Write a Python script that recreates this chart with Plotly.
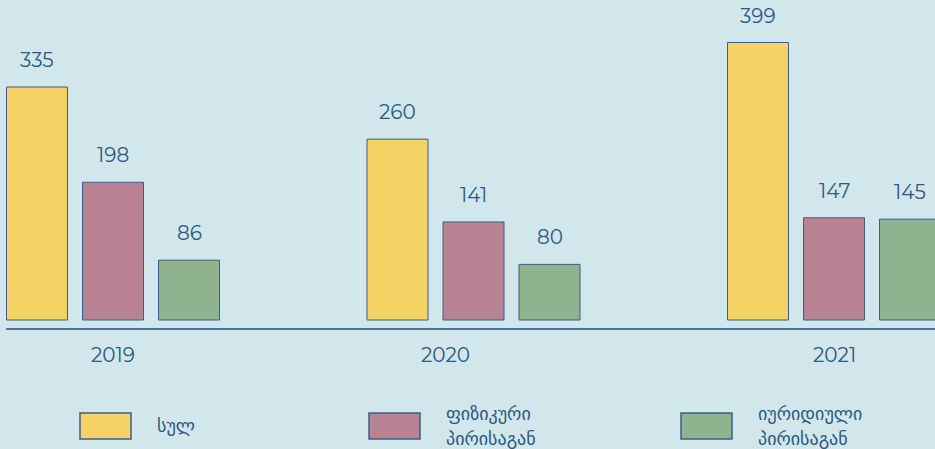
import plotly.graph_objects as go

# ---- data ----
years = ["2019", "2020", "2021"]
series_names = ["სულ", "ფიზიკური<br>პირისაგან", "იურიდიული<br>პირისაგან"]
total = [335, 260, 399]
physical = [198, 141, 147]
legal = [86, 80, 145]

# ---- style ----
BG = "#d1e7ec"
TEXT = "#2c5882"
OUTLINE = "#3b5f86"
colors = ["#f5d264", "#b98292", "#8fb38e"]
FONT = "Montserrat, 'Open Sans', 'DejaVu Sans', sans-serif"

W, H = 935, 449
ML, MR, MT, MB = 6, 0, 0, 121
PW, PH = W - ML - MR, H - MT - MB

CAT_PX = 360.5          # pixel distance between categories
STEP_PX = 76            # pixel step between bars in a group
BAR_PX = 61
X0_PX = 113             # pixel position of first category
x_lo = -(X0_PX - ML) / CAT_PX
x_hi = x_lo + PW / CAT_PX

# y scale: baseline at pixel 320, axis line at 328, 399 at 42.5
scale = (320 - 42.5) / 399
y_lo = -(328 - 320) / scale
y_hi = y_lo + PH / scale

fig = go.Figure()
all_vals = [total, physical, legal]
for name, vals, col in zip(series_names, all_vals, colors):
    fig.add_trace(go.Bar(
        x=years, y=vals, name=name,
        marker=dict(color=col, line=dict(color=OUTLINE, width=1)),
        showlegend=False, hoverinfo="skip",
    ))

annotations = []
step = STEP_PX / CAT_PX
for j, vals in enumerate(all_vals):
    for i, v in enumerate(vals):
        annotations.append(dict(
            x=i + (j - 1) * step, y=v, xref="x", yref="y",
            text=str(v), showarrow=False, yanchor="middle", yshift=27,
            font=dict(size=20, color=TEXT, family=FONT),
        ))

# year labels under the axis
year_shift = [0, -28, 0]
for i, yr in enumerate(years):
    annotations.append(dict(
        x=i, y=0, xref="x", yref="paper", text=yr, showarrow=False,
        yanchor="middle", yshift=-27, xshift=year_shift[i],
        font=dict(size=20, color=TEXT, family=FONT),
    ))

# custom legend
def px_x(p):
    return (p - ML) / PW

def px_y(p):
    return (MT + PH - p) / PH

shapes = []
sw_left = [80, 369, 681]
txt_left = [155, 444, 756]
for k in range(3):
    shapes.append(dict(
        type="rect", xref="paper", yref="paper",
        x0=px_x(sw_left[k]), x1=px_x(sw_left[k] + 51),
        y0=px_y(439), y1=px_y(413),
        fillcolor=colors[k], line=dict(color=OUTLINE, width=1.5),
    ))
    lines = series_names[k].split("<br>")
    if len(lines) == 1:
        ys = [426]
    else:
        ys = [414, 439]
    for ln, yy in zip(lines, ys):
        annotations.append(dict(
            x=px_x(txt_left[k]), y=px_y(yy), xref="paper", yref="paper",
            text=ln, showarrow=False, xanchor="left", yanchor="middle",
            align="left", font=dict(size=18, color=TEXT, family=FONT),
        ))

fig.update_layout(
    width=W, height=H,
    margin=dict(l=ML, r=MR, t=MT, b=MB),
    paper_bgcolor=BG, plot_bgcolor=BG,
    barmode="group",
    bargap=1 - 3 * STEP_PX / CAT_PX,
    bargroupgap=1 - BAR_PX / STEP_PX,
    xaxis=dict(range=[x_lo, x_hi], showticklabels=False, showgrid=False,
               zeroline=False, showline=True, linecolor="#4f7398", linewidth=2,
               ticks="", fixedrange=True),
    yaxis=dict(range=[y_lo, y_hi], visible=False, showgrid=False, zeroline=False,
               fixedrange=True),
    annotations=annotations,
    shapes=shapes,
    font=dict(family=FONT, color=TEXT),
    hovermode=False,
)

fig.write_html("out.html", config={"displayModeBar": False},
               post_script="document.body.style.margin='0';document.body.style.overflow='hidden';")
